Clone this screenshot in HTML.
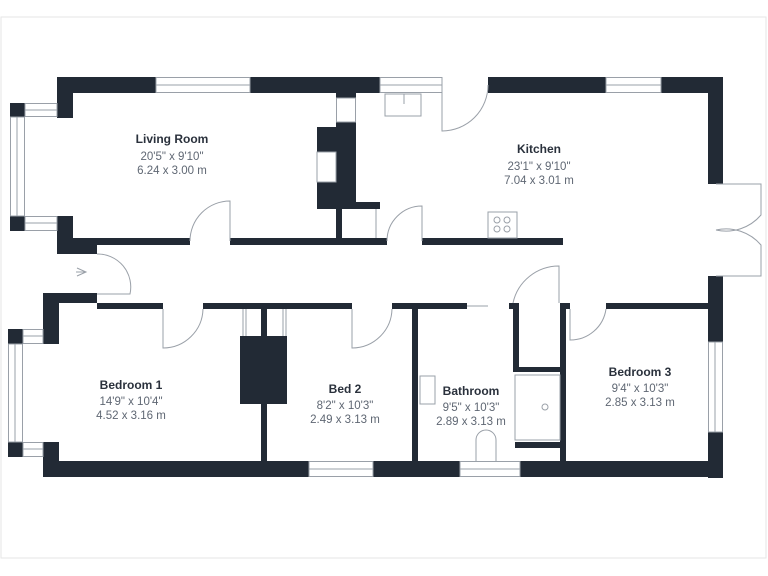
<!DOCTYPE html>
<html><head><meta charset="utf-8"><style>
html,body{margin:0;padding:0;background:#fff;}
svg{display:block;}
.t{font-family:"Liberation Sans",sans-serif;font-weight:bold;font-size:12px;fill:#2a313c;text-anchor:middle;}
.d{font-family:"Liberation Sans",sans-serif;font-size:11.5px;fill:#5f6773;text-anchor:middle;}
</style></head><body>
<svg width="768" height="576" viewBox="0 0 768 576" xmlns="http://www.w3.org/2000/svg">
<rect x="1" y="17" width="765" height="541" fill="none" stroke="#e6e6e6" stroke-width="1"/>
<g fill="#222a35">
<!-- top wall -->
<rect x="57" y="77" width="99" height="16"/>
<rect x="250" y="77" width="130" height="16"/>
<rect x="488" y="77" width="118" height="16"/>
<rect x="661" y="77" width="62" height="16"/>
<rect x="708" y="77" width="15" height="107"/>
<rect x="708" y="276" width="15" height="66"/>
<rect x="708" y="432" width="15" height="46"/>
<!-- living left -->
<rect x="57" y="77" width="16" height="41"/>
<rect x="10" y="103" width="15" height="14"/>
<rect x="10" y="216" width="15" height="15"/>
<rect x="57" y="216" width="16" height="38"/>
<rect x="57" y="238" width="40" height="16"/>
<rect x="73" y="238" width="117" height="7"/>
<rect x="230" y="238" width="157" height="7"/>
<rect x="422" y="238" width="141" height="7"/>
<!-- chimney -->
<rect x="336" y="93" width="20" height="5"/>
<rect x="336" y="122" width="20" height="87"/>
<rect x="317" y="127" width="39" height="82"/>
<rect x="336" y="202" width="44" height="7"/>
<rect x="336" y="209" width="6" height="30"/>
<!-- bedroom row -->
<rect x="43" y="293" width="54" height="10"/>
<rect x="43" y="293" width="16" height="51"/>
<rect x="8" y="329" width="15" height="15"/>
<rect x="8" y="442" width="15" height="15"/>
<rect x="43" y="442" width="16" height="35"/>
<rect x="97" y="303" width="66" height="6"/>
<rect x="203" y="303" width="149" height="6"/>
<rect x="392" y="303" width="75" height="6"/>
<rect x="509" y="303" width="10" height="6"/>
<rect x="560" y="303" width="10" height="6"/>
<rect x="606" y="303" width="102" height="6"/>
<rect x="43" y="461" width="266" height="16"/>
<rect x="373" y="461" width="87" height="16"/>
<rect x="520" y="461" width="203" height="16"/>
<rect x="261" y="309" width="6" height="152"/>
<rect x="240" y="336" width="47" height="68"/>
<rect x="412" y="303" width="6" height="158"/>
<rect x="513" y="303" width="6" height="67"/>
<rect x="560" y="303" width="6" height="158"/>
<rect x="513" y="367" width="53" height="5"/>
<rect x="515" y="442" width="47" height="6"/>
</g>
<g fill="none" stroke="#9aa0a8" stroke-width="1">
<!-- windows -->
<rect x="156" y="77.5" width="94" height="15"/><line x1="156" y1="85" x2="250" y2="85"/>
<rect x="380" y="77.5" width="62" height="15"/><line x1="380" y1="85" x2="442" y2="85"/>
<rect x="606" y="77.5" width="55" height="15"/><line x1="606" y1="85" x2="661" y2="85"/>
<rect x="10.5" y="117" width="14" height="99"/><line x1="17" y1="117" x2="17" y2="216"/>
<rect x="25" y="103.5" width="32" height="13"/><line x1="25" y1="110" x2="57" y2="110"/>
<rect x="25" y="216.5" width="32" height="14"/><line x1="25" y1="223" x2="57" y2="223"/>
<rect x="8.5" y="344" width="14" height="98"/><line x1="15" y1="344" x2="15" y2="442"/>
<rect x="23" y="329.5" width="20" height="14"/><line x1="23" y1="336" x2="43" y2="336"/>
<rect x="23" y="442.5" width="20" height="14"/><line x1="23" y1="449" x2="43" y2="449"/>
<rect x="309" y="461.5" width="64" height="15"/><line x1="309" y1="469" x2="373" y2="469"/>
<rect x="460" y="461.5" width="60" height="15"/><line x1="460" y1="469" x2="520" y2="469"/>
<rect x="708.5" y="342" width="14" height="90"/><line x1="715" y1="342" x2="715" y2="432"/>
<rect x="336.5" y="98" width="19" height="24"/>
<!-- fixtures -->
<rect x="385" y="94" width="36" height="22"/><line x1="404" y1="94" x2="404" y2="104"/>
<rect x="488" y="212" width="29" height="26"/>
<circle cx="497" cy="220" r="3"/><circle cx="507" cy="220" r="3"/><circle cx="497" cy="229" r="3"/><circle cx="507" cy="229" r="3"/>
<rect x="317" y="152" width="19" height="30" fill="#fff"/>
<rect x="420" y="376" width="15" height="28"/>
<rect x="515" y="375" width="45" height="65"/><circle cx="545" cy="407" r="3"/>
<path d="M476 461 V440 a10 10 0 0 1 20 0 V461"/>
<line x1="243" y1="309" x2="243" y2="336"/><line x1="246" y1="309" x2="246" y2="336"/>
<line x1="283" y1="309" x2="283" y2="336"/><line x1="286" y1="309" x2="286" y2="336"/>
<line x1="467" y1="306" x2="488" y2="306"/>
<line x1="376" y1="209" x2="376" y2="238"/>
<!-- doors -->
<path d="M190 241 A40 40 0 0 1 230 201 V241"/>
<path d="M387 241 A35 35 0 0 1 422 206 V241"/>
<path d="M442 82 V131 A46 46 0 0 0 488 85"/>
<path d="M97 254 A33 33 0 0 1 130 294 H97"/>
<path d="M163 309 V348 A40 40 0 0 0 203 309"/>
<path d="M352 309 V348 A40 40 0 0 0 392 309"/>
<path d="M513 303 A47 47 0 0 1 559 266 V303"/>
<path d="M570 309 V340 A36 36 0 0 0 606 309"/>
<path d="M716 184 H761 V215 A46 46 0 0 1 716 230"/>
<path d="M716 276 H761 V245 A46 46 0 0 0 716 230"/>
<path d="M77 268 L86 272 L77 276 M76 272 H86"/>
</g>
<text class="t" x="172" y="143">Living Room</text>
<text class="d" x="172" y="160">20'5" x 9'10"</text>
<text class="d" x="172" y="174">6.24 x 3.00 m</text>
<text class="t" x="539" y="153">Kitchen</text>
<text class="d" x="539" y="170">23'1" x 9'10"</text>
<text class="d" x="539" y="184">7.04 x 3.01 m</text>
<text class="t" x="131" y="389">Bedroom 1</text>
<text class="d" x="131" y="405">14'9" x 10'4"</text>
<text class="d" x="131" y="419">4.52 x 3.16 m</text>
<text class="t" x="345" y="393">Bed 2</text>
<text class="d" x="345" y="409">8'2" x 10'3"</text>
<text class="d" x="345" y="423">2.49 x 3.13 m</text>
<text class="t" x="471" y="395">Bathroom</text>
<text class="d" x="471" y="411">9'5" x 10'3"</text>
<text class="d" x="471" y="425">2.89 x 3.13 m</text>
<text class="t" x="640" y="376">Bedroom 3</text>
<text class="d" x="640" y="392">9'4" x 10'3"</text>
<text class="d" x="640" y="406">2.85 x 3.13 m</text>
</svg>
</body></html>
